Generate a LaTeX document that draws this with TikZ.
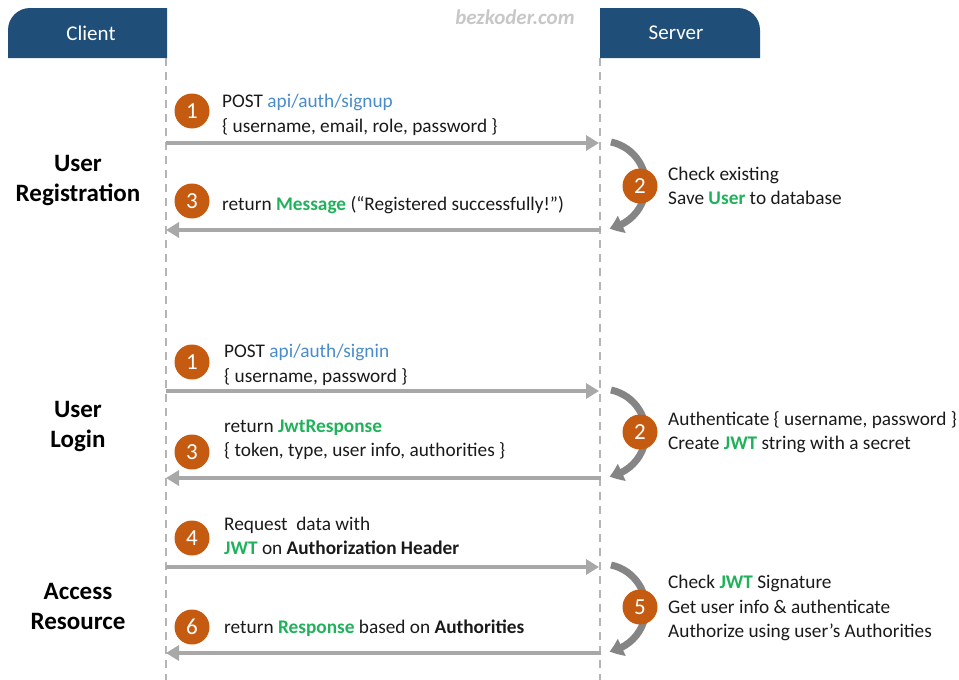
\documentclass[tikz,border=0pt]{standalone}
\usepackage{fontspec}
\setmainfont{Carlito}
\usetikzlibrary{arrows.meta,bending}
\definecolor{hdr}{HTML}{1F4E79}
\definecolor{org}{HTML}{C55A11}
\definecolor{lnk}{HTML}{4A8CCB}
\definecolor{grn}{HTML}{1FB25A}
\definecolor{arr}{HTML}{A8A8A8}
\definecolor{carr}{HTML}{858585}
\definecolor{txt}{HTML}{1A1A1A}
\newcommand{\lk}[1]{\textcolor{lnk}{#1}}
\newcommand{\gb}[1]{\textcolor{grn}{\bfseries #1}}
\tikzset{
  hdrbox/.style={fill=hdr,draw=none},
  hdrtext/.style={text=white,font=\fontsize{21}{24}\selectfont},
  life/.style={draw=arr!85,line width=1.6pt,dash pattern=on 8pt off 6pt},
  msg/.style={draw=arr,line width=4pt,-{Triangle[length=13pt,width=15pt]}},
  num/.style={circle,fill=org,minimum size=35pt,inner sep=0pt,text=white,font=\fontsize{23}{24}\selectfont},
  lbl/.style={anchor=west,align=left,text=txt,font=\fontsize{19.3}{24.5}\selectfont,inner sep=0pt},
  sect/.style={align=center,text=black,font=\bfseries\fontsize{25}{30}\selectfont},
  loop/.style={draw=carr,line width=7pt,-{Triangle[length=13pt,width=18pt,bend]}}
}
\begin{document}
\begin{tikzpicture}[x=1pt,y=-1pt]
\useasboundingbox (0,0) rectangle (959,680);
% headers
\fill[hdrbox] (8,58) -- (8,30) arc[start angle=180,end angle=270,radius=22] -- (167,8) -- (167,58) -- cycle;
\node[hdrtext] (client) at (91,33) {Client};
\fill[hdrbox] (600,58) -- (600,8) -- (738,8) arc[start angle=270,end angle=360,radius=22] -- (760,58) -- cycle;
\node[hdrtext] (server) at (676,33) {Server};
\node[text=black!22,font=\itshape\bfseries\fontsize{21}{22}\selectfont] (wm) at (515,17) {bezkoder.com};
% lifelines
\coordinate (ct) at (166,58); \coordinate (cb) at (166,680);
\coordinate (st) at (600,58); \coordinate (sb) at (600,680);
\draw[life] (ct) -- (cb);
\draw[life] (st) -- (sb);
% section labels
\node[sect] (s1) at (78,181) {User\\Registration};
\node[sect] (s2) at (78,427) {User\\Login};
\node[sect] (s3) at (78,606) {Access\\Resource};
% message coordinates
\foreach \n/\y in {a/143,b/230,c/391,d/478,e/567,f/653}{
  \coordinate (L\n) at (166,\y);
  \coordinate (R\n) at (599,\y);
  \coordinate (R2\n) at (601,\y);
}
% loops
\foreach \y in {187,435,610}{
  \draw[loop] (611,\y-45) arc[start angle=-78,end angle=80,radius=44];
}
% messages
\draw[msg] (La) -- (Ra);
\draw[msg] (R2b) -- (Lb);
\draw[msg] (Lc) -- (Rc);
\draw[msg] (R2d) -- (Ld);
\draw[msg] (Le) -- (Re);
\draw[msg] (R2f) -- (Lf);
% numbers
\node[num] (n1) at (192,111) {1};
\node[num] (n3) at (192,201) {3};
\node[num] (n2) at (640,186) {2};
\node[num] (m1) at (192,362) {1};
\node[num] (m3) at (192,452) {3};
\node[num] (m2) at (640,432) {2};
\node[num] (k4) at (192,538) {4};
\node[num] (k6) at (192,627) {6};
\node[num] (k5) at (640,607) {5};
% texts
\node[lbl] (t1) at (222,115) {POST \lk{api/auth/signup}\\\{ username, email, role, password \}};
\node[lbl] (t3) at (222,205) {return \gb{Message} (“Registered successfully!”)};
\node[lbl] (t2) at (668,186) {Check existing\\Save \gb{User} to database};
\node[lbl] (u1) at (224,365) {POST \lk{api/auth/signin}\\\{ username, password \}};
\node[lbl] (u3) at (224,440) {return \gb{JwtResponse}\\\{ token, type, user info, authorities \}};
\node[lbl] (u2) at (668,432) {Authenticate \{ username, password \}\\Create \gb{JWT} string with a secret};
\node[lbl] (v4) at (224,536) {Request~ data with\\\gb{JWT} on \textbf{Authorization Header}};
\node[lbl] (v6) at (224,628) {return \gb{Response} based on \textbf{Authorities}};
\node[lbl] (v5) at (668,608) {Check \gb{JWT} Signature\\Get user info \& authenticate\\Authorize using user’s Authorities};
\end{tikzpicture}
\end{document}
